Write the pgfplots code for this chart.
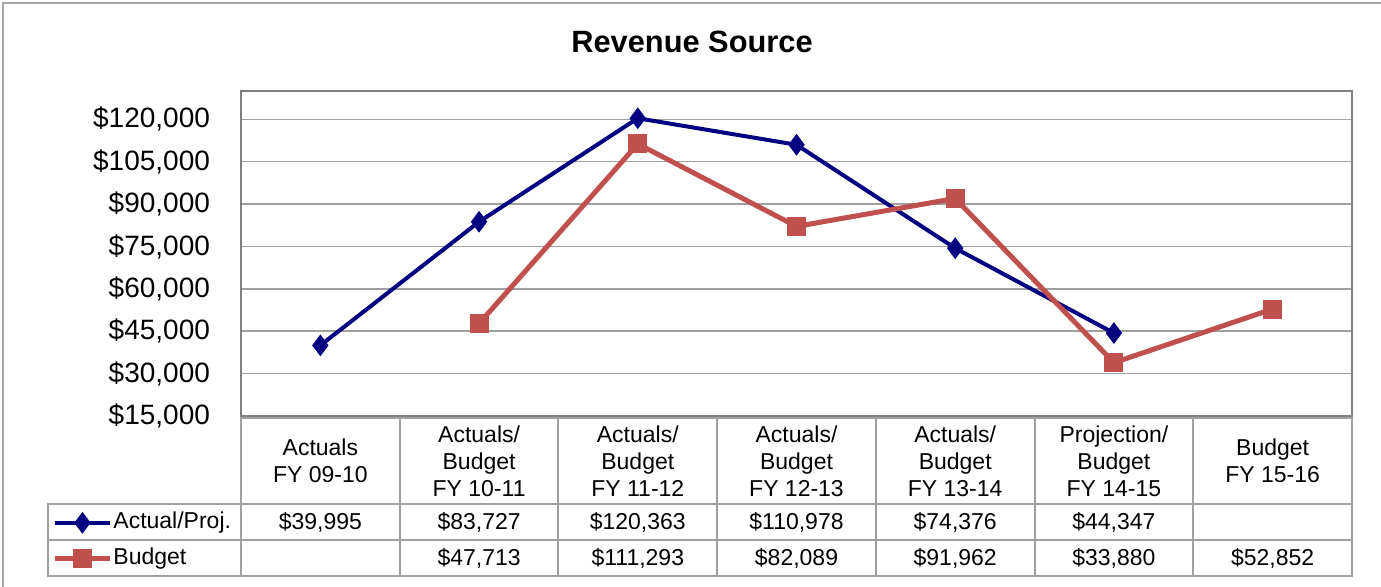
\documentclass[border=0pt]{standalone}
\usepackage{fontspec}
\setmainfont{Liberation Sans}
\usepackage{pgfplots}
\pgfplotsset{compat=1.18}

\definecolor{actblue}{RGB}{0,0,128}
\definecolor{budred}{RGB}{192,80,77}
\definecolor{gridgray}{RGB}{160,160,160}
\definecolor{framegray}{RGB}{128,128,128}

\begin{document}
\begin{tikzpicture}
\begin{axis}[
  at={(0pt,0pt)}, anchor=south west,
  scale only axis, width=555.5pt, height=162.5pt,
  xmin=-0.5, xmax=6.5, ymin=15000, ymax=130000,
  xtick=\empty,
  ytick={15000,30000,...,120000},
  scaled y ticks=false,
  ymajorgrids, grid style={gridgray, line width=0.75pt},
  major tick length=0pt,
  axis line style={framegray, line width=0.8pt},
  yticklabel={\$\pgfmathprintnumber{\tick}},
  /pgf/number format/.cd, fixed, 1000 sep={,}, assume math mode=true,
  /pgfplots/.cd,
  yticklabel style={font=\fontsize{14}{16}\selectfont, xshift=-12pt},
  legend style={at={(-0.1701,-0.384)}, anchor=west, draw=none, fill=none,
    font=\fontsize{11.5}{13.5}\selectfont, inner sep=0pt, row sep=8pt,
    nodes={inner sep=0pt, text height=8pt, text depth=2pt}},
  legend cell align=left,
  legend image code/.code={\draw[mark repeat=2,mark phase=2]
    plot coordinates {(0pt,0pt)(13.75pt,0pt)(27.5pt,0pt)};},
  every axis legend/.append style={column sep=0.5pt},
]
\addplot[actblue, line width=2pt, mark=diamond*, mark size=3.8pt,
  mark options={solid, fill=actblue}] coordinates {
  (0,39995)(1,83727)(2,120363)(3,110978)(4,74376)(5,44347)};
\addlegendentry{Actual/Proj.}
\addplot[budred, line width=2.5pt, mark=square*, mark size=4.5pt,
  mark options={solid, fill=budred, line width=0.5pt}] coordinates {
  (1,47713)(2,111293)(3,82089)(4,91962)(5,33880)(6,52852)};
\addlegendentry{Budget}
\end{axis}

\begin{scope}[shift={(-120.5pt,208pt)}, x=0.5pt, y=-0.5pt]
  % outer frame (left and top edges)
  \draw[framegray!70, line width=1pt] (3,600) -- (3,3) -- (1400,3);
  % title
  \node[font=\fontsize{15.4}{18}\selectfont\bfseries] at (692,42) {Revenue Source};
  % data table
  \begin{scope}[gridgray, line width=1pt]
    \draw (241,418) rectangle (1352,576);
    \draw (48,504) rectangle (1352,576);
    \draw (48,540) -- (1352,540);
    \foreach \k in {1,...,6} \draw ({241+158.714*\k},418) -- ({241+158.714*\k},576);
  \end{scope}
  \begin{scope}[font=\fontsize{11.5}{13.5}\selectfont, align=center]
    \node at (320.4,461) {Actuals\\FY 09-10};
    \node at (479.1,461) {Actuals/\\Budget\\FY 10-11};
    \node at (637.8,461) {Actuals/\\Budget\\FY 11-12};
    \node at (796.5,461) {Actuals/\\Budget\\FY 12-13};
    \node at (955.2,461) {Actuals/\\Budget\\FY 13-14};
    \node at (1113.9,461) {Projection/\\Budget\\FY 14-15};
    \node at (1272.6,461) {Budget\\FY 15-16};
    \node at (320.4,522) {\$39,995};
    \node at (479.1,522) {\$83,727};
    \node at (637.8,522) {\$120,363};
    \node at (796.5,522) {\$110,978};
    \node at (955.2,522) {\$74,376};
    \node at (1113.9,522) {\$44,347};
    \node at (479.1,558) {\$47,713};
    \node at (637.8,558) {\$111,293};
    \node at (796.5,558) {\$82,089};
    \node at (955.2,558) {\$91,962};
    \node at (1113.9,558) {\$33,880};
    \node at (1272.6,558) {\$52,852};
  \end{scope}
  \pgfresetboundingbox
  \path[use as bounding box] (0,0) rectangle (1381,586);
\end{scope}
\end{tikzpicture}
\end{document}
